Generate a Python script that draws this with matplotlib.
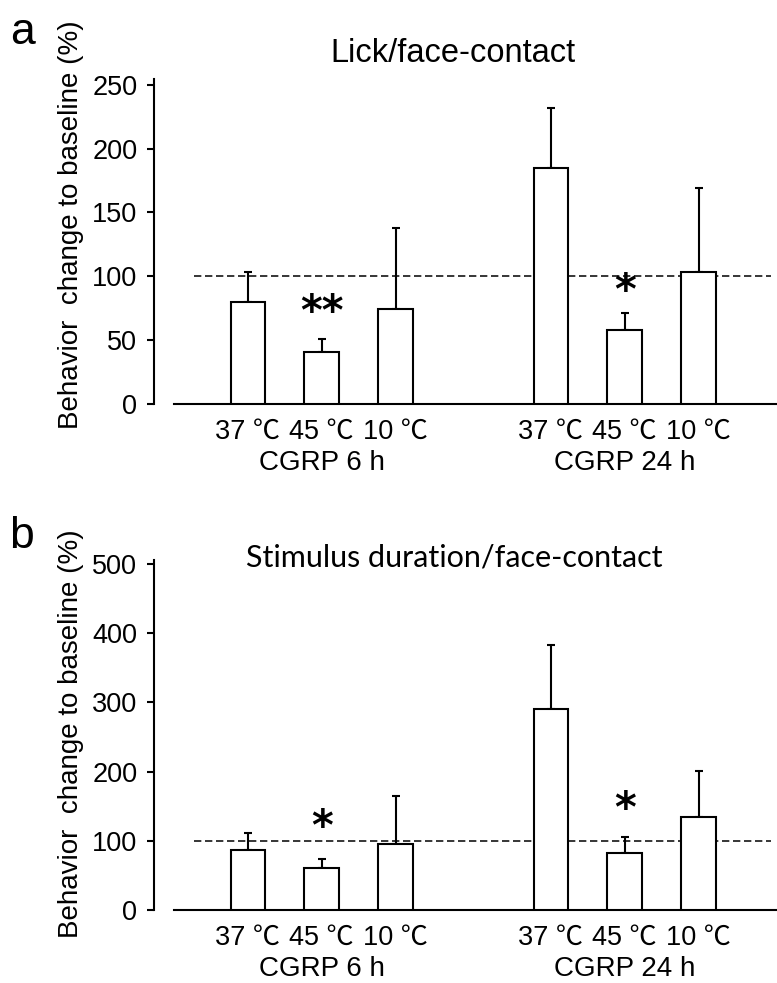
import matplotlib
matplotlib.use("Agg")
import matplotlib.pyplot as plt
import numpy as np

# ---- data ----
temps = ["37 ℃", "45 ℃", "10 ℃"]
groups = ["CGRP 6 h", "CGRP 24 h"]
lick_mean = [80, 40.5, 74, 184.5, 58, 103]
lick_err = [23.5, 10.5, 63.5, 47, 13.5, 66]
dur_mean = [87, 61, 95, 290, 83, 135]
dur_err = [24, 13, 70, 93, 23, 66]
lick_stars = ["", "**", "", "", "*", ""]
lick_star_y = [0, 71, 0, 0, 88, 0]
dur_stars = ["", "*", "", "", "*", ""]
dur_star_y = [0, 119, 0, 0, 145, 0]
lick_yticks = [0, 50, 100, 150, 200, 250]
dur_yticks = [0, 100, 200, 300, 400, 500]
baseline = 100

ARIAL = ["Liberation Sans", "Noto Sans CJK JP", "DejaVu Sans"]
plt.rcParams["font.family"] = ARIAL

W, H = 777, 983
fig = plt.figure(figsize=(W / 100, H / 100), dpi=100)

group_gap = 4.1
x = np.array([0, 1, 2, group_gap, group_gap + 1, group_gap + 2])
group_centers = [x[:3].mean(), x[3:].mean()]


def px_axes(l, t, r, b):
    return fig.add_axes([l / W, 1 - b / H, (r - l) / W, (b - t) / H])


def panel(ax, means, errs, stars, star_y, yticks, ylim, ylabel):
    ax.bar(x, means, width=0.47, color="white", edgecolor="black",
           linewidth=1.5, zorder=3)
    ax.errorbar(x, means, yerr=[np.zeros(len(errs)), errs], fmt="none",
                ecolor="black", elinewidth=1.5, capsize=2.6, capthick=1.5,
                zorder=2)
    ax.axhline(baseline, xmin=0.033, xmax=0.99, color="black", lw=1.1,
               dashes=(4.8, 2.4), zorder=1)
    for xi, s, sy in zip(x, stars, star_y):
        if s:
            ax.text(xi, sy, s, ha="center", va="center", fontsize=30,
                    fontweight="bold", family="DejaVu Sans")
    ax.set_xlim(-1.0, 7.16)
    ax.set_ylim(*ylim)
    ax.set_yticks(yticks)
    ax.set_xticks(x)
    ax.set_xticklabels(temps * 2)
    ax.tick_params(axis="x", length=0, pad=11, labelsize=19.5)
    ax.tick_params(axis="y", length=5, width=1.5, labelsize=19.5, pad=7)
    for sp in ["top", "right"]:
        ax.spines[sp].set_visible(False)
    ax.spines["left"].set_position(("outward", 14.4))
    ax.spines["left"].set_linewidth(1.5)
    ax.spines["bottom"].set_linewidth(1.5)
    for gc, g in zip(group_centers, groups):
        ax.annotate(g, xy=(gc, 0), xycoords=("data", "axes fraction"),
                    xytext=(0, -59), textcoords="offset pixels",
                    ha="center", va="center", fontsize=20)
    ax.set_ylabel(ylabel, fontsize=20)


ax1 = px_axes(174, 78.7, 777, 404)
panel(ax1, lick_mean, lick_err, lick_stars, lick_star_y, lick_yticks,
      (0, 254.7), "Behavior  change to baseline (%)")

ax2 = px_axes(174, 560, 777, 910)
panel(ax2, dur_mean, dur_err, dur_stars, dur_star_y, dur_yticks,
      (0, 505.8), "Behavior  change to baseline (%)")

for ax, yc in [(ax1, 225), (ax2, 734)]:
    ax.yaxis.set_label_coords(71 / W, 1 - yc / H, transform=fig.transFigure)
    ax.yaxis.label.set_va("center")

fig.text(453 / W, 1 - 53 / H, "Lick/face-contact", ha="center", va="center",
         fontsize=23.5)
fig.text(454 / W, 1 - 558 / H, "Stimulus duration/face-contact",
         ha="center", va="center", fontsize=22, family=["Lato", "DejaVu Sans"])
fig.text(22 / W, 1 - 33 / H, "a", ha="center", va="center", fontsize=32)
fig.text(21 / W, 1 - 536 / H, "b", ha="center", va="center", fontsize=32)

fig.savefig("out.png", dpi=100)
